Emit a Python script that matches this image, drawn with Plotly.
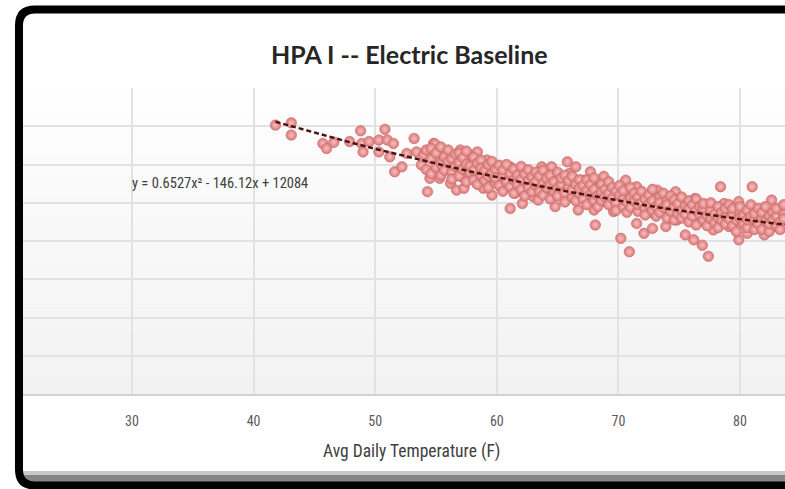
import plotly.graph_objects as go

# ---------------- data ----------------
# individually read points
temp_read = [41.8, 43.1, 43.1, 45.7, 46.0, 46.6, 47.9, 48.8, 48.9, 49.0, 49.5, 50.3, 50.3, 50.8,
             51.0, 51.5, 51.2, 51.6, 52.2, 52.6, 53.2, 53.4, 54.0, 53.8, 54.8, 54.5, 54.3, 54.9]
kwh_read = [7030, 7090, 6770, 6550, 6420, 6580, 6600, 6880, 6550, 6330, 6600, 6640, 6330, 6920,
            6640, 6550, 6200, 5810, 5940, 6290, 6680, 6330, 6250, 5990, 6550, 5640, 5290, 6120]

temp_mid = [54.9, 54.9, 55.1, 55.3, 56.0, 56.0, 56.2, 56.4, 56.7, 57.0, 57.1, 57.3, 57.3, 57.8,
            58.1, 58.4, 58.4, 58.9, 59.2, 59.5, 59.6, 59.6, 60.0, 60.3, 61.1, 61.2, 61.1, 61.5,
            61.9, 62.1, 62.5, 62.8, 63.0, 63.4, 63.7, 64.0, 64.4, 64.5, 64.8, 65.4, 65.5, 65.8,
            66.0, 66.5, 66.6, 66.7, 67.1, 67.4, 67.7, 68.0, 68.1, 68.4, 68.8, 68.9]
kwh_mid = [6540, 6200, 6070, 5640, 6250, 5940, 5510, 5770, 5330, 6380, 6120, 5640, 5380, 6250,
           5990, 6330, 5690, 5380, 6120, 5940, 5590, 5200, 5860, 5420, 5940, 5590, 4850, 5250,
           5770, 4980, 5420, 5770, 5160, 5070, 5940, 5590, 5330, 5940, 4900, 5590, 5160, 6070,
           5770, 5940, 5380, 4810, 5590, 5160, 5810, 4810, 4420, 5420, 5690, 5030]

temp_hot = [68.8, 69.3, 69.6, 70.2, 70.6, 70.9, 71.0, 71.3, 71.5, 71.5, 72.1, 72.2, 72.8, 72.9,
            73.2, 73.3, 73.9, 74.0, 74.7, 74.8, 75.1, 75.5, 75.8, 76.2, 76.3, 76.7, 76.9, 77.3,
            77.4, 77.8, 78.1, 78.4, 78.7, 79.1, 79.5, 79.9, 79.9, 80.3, 80.6, 81.0, 81.1, 81.4,
            82.0, 82.2, 82.6, 82.8, 83.3, 83.5]
kwh_hot = [5420, 5070, 4770, 4070, 5590, 3720, 5250, 4900, 4460, 5420, 4200, 4980, 4330, 4720,
           5330, 5070, 4380, 4810, 5290, 4550, 4980, 4160, 4720, 4030, 5110, 4510, 3890, 4900,
           3600, 4290, 4640, 5420, 4980, 4380, 4770, 4030, 5030, 4550, 4200, 5420, 4850, 4460,
           4160, 4720, 5070, 4380, 4550, 4850]

# dense band of the cloud: temperature column -> estimated values in that column
band_temps = [54.2, 54.6, 55.0, 55.4, 55.7, 56.0, 56.3, 56.6, 56.9, 57.2, 57.5, 57.8, 58.1, 58.4,
              58.7, 59.0, 59.3, 59.6, 59.9, 60.2, 60.5, 60.8, 61.1, 61.4, 61.7, 62.0, 62.3, 62.6,
              62.9, 63.2, 63.5, 63.8, 64.1, 64.4, 64.7, 65.0, 65.3, 65.6, 65.9, 66.2, 66.5, 66.8,
              67.1, 67.4, 67.7, 68.0, 68.3, 68.6, 68.9, 69.2, 69.5, 69.8, 70.1, 70.4, 70.7, 71.0,
              71.3, 71.6, 71.9, 72.2, 72.5, 72.8, 73.1, 73.4, 73.7, 74.0, 74.3, 74.6, 74.9, 75.2,
              75.5, 75.8, 76.1, 76.4, 76.7, 77.0, 77.3, 77.6, 77.9, 78.2, 78.5, 78.8, 79.1, 79.4,
              79.7, 80.0, 80.3, 80.6, 80.9, 81.2, 81.5, 81.8, 82.1, 82.4, 82.7, 83.0, 83.3, 83.6]
band_kwh = [
    [6380, 5870], [6150, 5760, 6420], [5930, 6300], [6460, 6010, 5720], [6200, 5850],
    [6090, 6380], [5800, 6150, 5620], [6270, 5950], [5700, 6050, 6300], [5880, 6180],
    [5550, 6010, 6350], [5790, 5960], [6190, 5600, 5850], [6040, 5480], [5720, 6110, 5900],
    [5580, 5830], [6000, 5690, 5400], [5760, 6080], [5520, 5870, 5650], [5980, 5450],
    [5700, 5860, 5300], [5550, 6000], [5760, 5420], [5880, 5600, 5250], [5480, 5720],
    [5950, 5350, 5620], [5750, 5180], [5580, 5860, 5400], [5680, 5290], [5450, 5800, 5550],
    [5300, 5700], [5500, 5200, 5850], [5400, 5640], [5720, 5100, 5480], [5550, 5300],
    [5380, 5800, 5180], [5480, 5650], [5250, 5020, 5720], [5420, 5580], [5150, 5330, 5690],
    [5480, 5050], [5250, 5600, 5380], [5100, 5450], [5320, 4950, 5600], [5220, 5480],
    [5050, 5350, 5650], [5180, 4900], [5480, 5280, 5060], [5350, 5150], [4950, 5550, 5250],
    [5120, 5400], [5000, 5300, 4800], [5200, 5450], [4900, 5100, 5320], [5020, 4750],
    [5400, 5130, 4880], [5050, 5250], [4780, 5150, 4950], [5300, 5000], [4850, 5100, 4680],
    [5200, 4950], [5050, 4800, 5350], [4900, 4650], [5150, 4750, 5000], [4880, 5250],
    [4600, 5050, 4950], [4780, 5180], [4900, 4550, 5080], [4700, 4980], [5150, 4800, 4600],
    [4920, 4700], [4500, 4850, 5050], [4650, 4950], [4800, 4420, 5100], [4700, 4900],
    [4550, 4850, 4980], [4650, 4400], [4800, 5000, 4580], [4700, 4480], [4900, 4600, 4350],
    [4750, 4550], [4650, 4850, 4450], [4580, 4950], [4400, 4700, 4850], [4550, 4250],
    [4750, 4600, 4900], [4450, 4680], [4800, 4350, 4560], [4650, 4950], [4300, 4580, 4720],
    [4850, 4450], [4600, 4300, 4750], [4520, 4900], [4650, 4250, 4450], [4750, 4550],
    [4400, 4650, 4850], [4500, 4300], [4700, 4580, 4950],
]

# trendline shown on the chart: y = 0.6527x^2 - 146.12x + 12084
trend_coef = [0.6527, -146.12, 12084]
trend_temps = [41.8, 44, 46, 48, 50, 52, 54, 56, 58, 60, 62, 64, 66, 68, 70, 72, 74, 76, 78, 80, 82, 84, 86]

x_ticks = [30, 40, 50, 60, 70, 80]
x_tick_text = ["30", "40", "50", "60", "70", "80"]

title_text = "HPA I -- Electric Baseline"
x_title_text = "Avg Daily Temperature (F)"
equation_text = "y = 0.6527x² - 146.12x + 12084"

# ---------------- assemble ----------------
temps = temp_read + temp_mid + temp_hot
kwh = kwh_read + kwh_mid + kwh_hot
for t, vals in zip(band_temps, band_kwh):
    for v in vals:
        temps.append(t)
        kwh.append(v)

a, b, c = trend_coef
trend_y = [a * t * t + b * t + c for t in trend_temps]

W, H = 785, 489
PT, PB = 88, 394  # plot top / bottom in pixels
NARROW = "Roboto Condensed, Roboto, Lato"


def px(p):
    return p / W


def py(p):
    return (PB - p) / (PB - PT)


fig = go.Figure()
fig.add_trace(go.Scatter(
    x=temps, y=kwh, mode="markers",
    marker=dict(size=10.5, color="#dc7878",
                gradient=dict(type="radial", color="#f8c0c0"),
                line=dict(color="#c66a6a", width=0.6)),
    hoverinfo="x+y",
))
fig.add_trace(go.Scatter(
    x=trend_temps, y=trend_y, mode="lines",
    line=dict(color="#4e1414", width=2.5, dash="5px,3px"),
    hoverinfo="skip",
))

shapes = []
# soft vertical gradient in the plot area
n = 14
for i in range(n):
    y0 = PT + (PB - PT) * i / n
    y1 = PT + (PB - PT) * (i + 1) / n
    g = int(255 - 13 * (i + 0.5) / n)
    shapes.append(dict(type="rect", xref="paper", yref="paper", layer="below",
                       x0=px(22), x1=1.0, y0=py(y1), y1=py(y0),
                       fillcolor=f"rgb({g},{g},{g})", line=dict(width=0)))
# white cover outside the frame (left)
shapes.append(dict(type="rect", xref="paper", yref="paper", layer="above",
                   x0=px(-2), x1=px(16), y0=py(489), y1=py(0),
                   fillcolor="white", line=dict(width=0)))
# grey bar at the bottom of the frame
shapes.append(dict(type="rect", xref="paper", yref="paper", layer="above",
                   x0=px(20), x1=px(800), y0=py(475), y1=py(471),
                   fillcolor="#c9c9c9", line=dict(width=0)))
shapes.append(dict(type="rect", xref="paper", yref="paper", layer="above",
                   x0=px(20), x1=px(800), y0=py(483), y1=py(475),
                   fillcolor="#858585", line=dict(width=0)))
# black rounded frame
L, T, B, R, r = 19, 9.5, 485.5, 820, 16
path = (f"M {px(L)},{py(T + r)} L {px(L)},{py(B - r)} "
        f"Q {px(L)},{py(B)} {px(L + r)},{py(B)} L {px(R)},{py(B)} "
        f"L {px(R)},{py(T)} L {px(L + r)},{py(T)} "
        f"Q {px(L)},{py(T)} {px(L)},{py(T + r)} Z")
shapes.append(dict(type="path", xref="paper", yref="paper", layer="above", path=path,
                   line=dict(color="black", width=8)))

annotations = [
    dict(text=f"<b>{title_text}</b>", x=px(409), y=py(54), xref="paper", yref="paper",
         xanchor="center", yanchor="middle", showarrow=False,
         font=dict(family="Lato", size=25, color="#262626")),
    dict(text=x_title_text, x=px(411), y=py(451), xref="paper", yref="paper",
         xanchor="center", yanchor="middle", showarrow=False,
         font=dict(family=NARROW, size=17.5, color="#404040")),
    dict(text=equation_text, x=px(130), y=py(183), xref="paper", yref="paper",
         xanchor="left", yanchor="middle", showarrow=False,
         font=dict(family=NARROW, size=14.5, color="#404040")),
]

x0 = 30 - 132 / 12.16
x1 = 30 + (W - 132) / 12.16
fig.update_layout(
    width=W, height=H,
    margin=dict(l=0, r=0, t=PT, b=H - PB, pad=0),
    paper_bgcolor="white", plot_bgcolor="white",
    showlegend=False,
    shapes=shapes, annotations=annotations,
    xaxis=dict(range=[x0, x1], tickvals=x_ticks, ticktext=x_tick_text,
               showgrid=True, gridcolor="#e2e2e2", gridwidth=1.5,
               zeroline=False, showline=True, linecolor="#d2d2d2", linewidth=2,
               ticks="outside", ticklen=13, tickcolor="rgba(0,0,0,0)",
               tickfont=dict(family=NARROW, size=14, color="#5a5a5a")),
    yaxis=dict(range=[0, 8000], dtick=1000, showticklabels=False,
               showgrid=True, gridcolor="#e2e2e2", gridwidth=1.5,
               zeroline=False, showline=False),
)

fig.write_html("out.html")
